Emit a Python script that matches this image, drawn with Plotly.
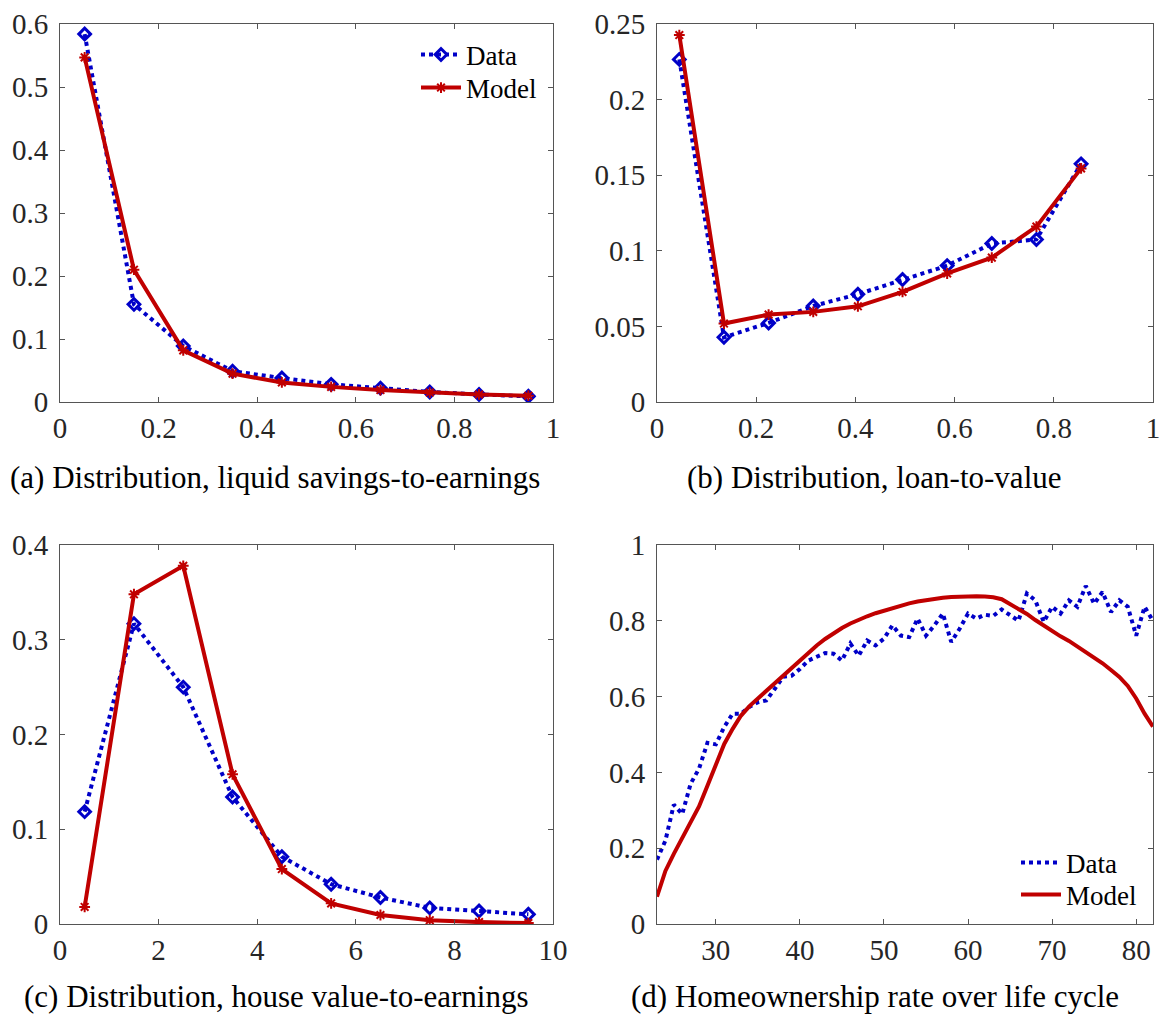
import plotly.graph_objects as go

# ---------------- data ----------------
# (a) liquid savings-to-earnings
a_x = [0.05, 0.15, 0.25, 0.35, 0.45, 0.55, 0.65, 0.75, 0.85, 0.95]
a_data = [0.584, 0.155, 0.089, 0.049, 0.038, 0.028, 0.022, 0.016, 0.012, 0.009]
a_model = [0.547, 0.210, 0.082, 0.045, 0.031, 0.024, 0.019, 0.015, 0.012, 0.010]

# (b) loan-to-value
b_x = [0.045, 0.135, 0.225, 0.315, 0.405, 0.495, 0.585, 0.675, 0.765, 0.855]
b_data = [0.2266, 0.0428, 0.0523, 0.0635, 0.0713, 0.0810, 0.0902, 0.1048, 0.1075, 0.1575]
b_model = [0.2427, 0.0519, 0.0578, 0.0596, 0.0633, 0.0728, 0.0850, 0.0955, 0.1160, 0.1545]

# (c) house value-to-earnings
c_x = [0.5, 1.5, 2.5, 3.5, 4.5, 5.5, 6.5, 7.5, 8.5, 9.5]
c_data = [0.1186, 0.317, 0.250, 0.134, 0.071, 0.042, 0.028, 0.017, 0.0137, 0.0102]
c_model = [0.018, 0.348, 0.378, 0.158, 0.058, 0.0218, 0.0095, 0.004, 0.002, 0.001]

# (d) homeownership over life cycle
d_age = list(range(23, 83))
d_data = [0.170, 0.220, 0.315, 0.290, 0.370, 0.410, 0.478, 0.474, 0.520, 0.555,
          0.555, 0.573, 0.585, 0.590, 0.620, 0.652, 0.655, 0.673, 0.695, 0.705,
          0.715, 0.713, 0.695, 0.740, 0.708, 0.748, 0.735, 0.753, 0.788, 0.761,
          0.757, 0.806, 0.761, 0.788, 0.819, 0.744, 0.779, 0.819, 0.806, 0.816,
          0.813, 0.830, 0.815, 0.800, 0.872, 0.854, 0.797, 0.837, 0.819, 0.854,
          0.837, 0.892, 0.845, 0.876, 0.823, 0.854, 0.837, 0.761, 0.837, 0.800]
d_model = [0.072, 0.140, 0.185, 0.225, 0.265, 0.310, 0.365, 0.420, 0.475, 0.515,
           0.550, 0.575, 0.595, 0.615, 0.635, 0.655, 0.677, 0.697, 0.717, 0.735,
           0.752, 0.767, 0.781, 0.793, 0.803, 0.812, 0.820, 0.827, 0.834, 0.840,
           0.846, 0.851, 0.855, 0.858, 0.861, 0.863, 0.864, 0.865, 0.865, 0.864,
           0.862, 0.857, 0.845, 0.832, 0.818, 0.802, 0.787, 0.772, 0.759, 0.747,
           0.733, 0.719, 0.704, 0.688, 0.670, 0.652, 0.628, 0.595, 0.555, 0.521]

captions = ["(a) Distribution, liquid savings-to-earnings",
            "(b) Distribution, loan-to-value",
            "(c) Distribution, house value-to-earnings",
            "(d) Homeownership rate over life cycle"]

a_yticks = [0, 0.1, 0.2, 0.3, 0.4, 0.5, 0.6]
a_ytext = ["0", "0.1", "0.2", "0.3", "0.4", "0.5", "0.6"]
b_yticks = [0, 0.05, 0.1, 0.15, 0.2, 0.25]
b_ytext = ["0", "0.05", "0.1", "0.15", "0.2", "0.25"]
ab_xticks = [0, 0.2, 0.4, 0.6, 0.8, 1]
ab_xtext = ["0", "0.2", "0.4", "0.6", "0.8", "1"]
c_yticks = [0, 0.1, 0.2, 0.3, 0.4]
c_ytext = ["0", "0.1", "0.2", "0.3", "0.4"]
c_xticks = [0, 2, 4, 6, 8, 10]
d_yticks = [0, 0.2, 0.4, 0.6, 0.8, 1]
d_ytext = ["0", "0.2", "0.4", "0.6", "0.8", "1"]
d_xticks = [30, 40, 50, 60, 70, 80]

# ---------------- style / layout ----------------
BLUE = "#0000C8"
RED = "#C00000"
FONT = "Liberation Serif, Times New Roman, Times, serif"
W, H = 1161, 1016


def px(x):
    return x / W


def py(y):
    return 1 - y / H


fig = go.Figure()


def data_trace(x, y, xa, ya, show, legend="legend", markers=True):
    return go.Scatter(
        x=x, y=y, xaxis=xa, yaxis=ya, name="Data", showlegend=show, legend=legend,
        mode="lines+markers" if markers else "lines",
        line=dict(color=BLUE, width=4, dash="dot"),
        marker=dict(symbol="diamond-open", size=9, color=BLUE, line=dict(width=3, color=BLUE)),
    )


def model_trace(x, y, xa, ya, show, legend="legend", markers=True):
    return go.Scatter(
        x=x, y=y, xaxis=xa, yaxis=ya, name="Model", showlegend=show, legend=legend,
        mode="lines+markers" if markers else "lines",
        line=dict(color=RED, width=4),
        marker=dict(symbol="asterisk-open", size=9, color=RED, line=dict(width=2, color=RED)),
    )


fig.add_trace(data_trace(a_x, a_data, "x", "y", True, legend="legend"))
fig.add_trace(model_trace(a_x, a_model, "x", "y", True, legend="legend3"))
fig.add_trace(data_trace(b_x, b_data, "x2", "y2", False))
fig.add_trace(model_trace(b_x, b_model, "x2", "y2", False))
fig.add_trace(data_trace(c_x, c_data, "x3", "y3", False))
fig.add_trace(model_trace(c_x, c_model, "x3", "y3", False))
fig.add_trace(data_trace(d_age, d_data, "x4", "y4", True, legend="legend2", markers=False))
fig.add_trace(model_trace(d_age, d_model, "x4", "y4", True, legend="legend4", markers=False))

left_dom = [px(60), px(553)]
right_dom = [px(657), px(1153)]
top_dom = [py(402), py(24)]
bot_dom = [py(924), py(545)]

axis_common = dict(
    showline=True, linecolor="#555555", linewidth=1, mirror="ticks",
    ticks="inside", ticklen=5, tickwidth=1, tickcolor="#555555",
    showgrid=False, zeroline=False, automargin=False,
    tickfont=dict(family=FONT, size=29, color="#262626"),
    fixedrange=True,
)
xaxis_common = dict(axis_common, ticklabelstandoff=0, ticklabeloverflow="allow")
yaxis_common = dict(axis_common, ticklabelstandoff=5, ticklabeloverflow="allow")

fig.update_layout(
    xaxis=dict(domain=left_dom, anchor="y", range=[0, 1], tickvals=ab_xticks, ticktext=ab_xtext, **xaxis_common),
    yaxis=dict(domain=top_dom, anchor="x", range=[0, 0.6], tickvals=a_yticks, ticktext=a_ytext, **yaxis_common),
    xaxis2=dict(domain=right_dom, anchor="y2", range=[0, 1], tickvals=ab_xticks, ticktext=ab_xtext, **xaxis_common),
    yaxis2=dict(domain=top_dom, anchor="x2", range=[0, 0.25], tickvals=b_yticks, ticktext=b_ytext, **yaxis_common),
    xaxis3=dict(domain=left_dom, anchor="y3", range=[0, 10], tickvals=c_xticks, **xaxis_common),
    yaxis3=dict(domain=bot_dom, anchor="x3", range=[0, 0.4], tickvals=c_yticks, ticktext=c_ytext, **yaxis_common),
    xaxis4=dict(domain=right_dom, anchor="y4", range=[23, 82], tickvals=d_xticks, **xaxis_common),
    yaxis4=dict(domain=bot_dom, anchor="x4", range=[0, 1], tickvals=d_yticks, ticktext=d_ytext, **yaxis_common),
)

legend_common = dict(
    bgcolor="rgba(255,255,255,0)", borderwidth=0,
    font=dict(family=FONT, size=27, color="#000000"),
    tracegroupgap=0, itemwidth=40, xanchor="left", yanchor="middle",
)
fig.update_layout(
    legend=dict(x=px(416), y=py(55), **legend_common),
    legend3=dict(x=px(416), y=py(88), **legend_common),
    legend2=dict(x=px(1016), y=py(863), **legend_common),
    legend4=dict(x=px(1016), y=py(895), **legend_common),
)

cap_pos = [(275, 477), (874, 477), (276, 996), (875, 996)]
for text, (cx, cy) in zip(captions, cap_pos):
    fig.add_annotation(
        text=text, x=px(cx), y=py(cy), xref="paper", yref="paper",
        showarrow=False, xanchor="center", yanchor="middle",
        font=dict(family=FONT, size=31, color="#000000"),
    )

fig.update_layout(
    template="none",
    width=W, height=H,
    margin=dict(l=0, r=0, t=0, b=0, pad=0, autoexpand=False),
    paper_bgcolor="white", plot_bgcolor="white",
    font=dict(family=FONT),
    hovermode=False,
)

fig.write_html(
    "out.html",
    config={"displayModeBar": False, "staticPlot": True},
    post_script="document.body.style.margin='0';document.documentElement.style.overflow='hidden';",
)
